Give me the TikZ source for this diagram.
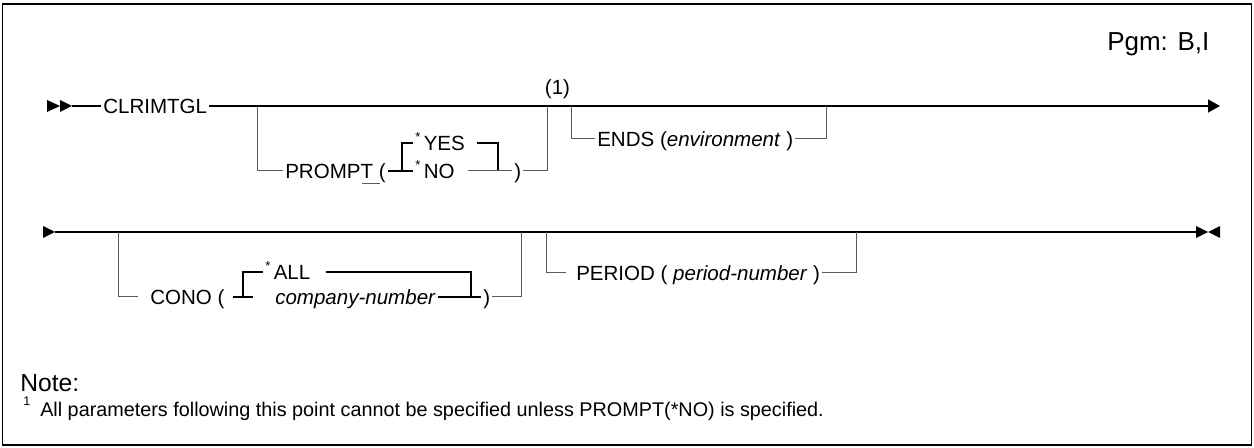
\documentclass[tikz,border=0pt]{standalone}
\usepackage{fontspec}
\setmainfont{Liberation Sans}
\usepackage{tikz}
\usetikzlibrary{arrows.meta}

\newcommand{\synfont}{\fontsize{15.4pt}{18pt}\selectfont}
\newcommand{\dflt}{\raisebox{6.5pt}{\fontsize{9.8pt}{10pt}\selectfont *}\,}

\begin{document}
\begin{tikzpicture}[x=0.75pt,y=0.75pt,yscale=-1,xscale=1,
  mainln/.style={line width=1.1pt,draw=black},
  branch/.style={line width=0.75pt,draw=black!65},
  kw/.style={anchor=west,inner xsep=1.5pt,inner ysep=0pt,text height=11pt,text depth=0pt,font=\synfont}]
\useasboundingbox (0,0) rectangle (1254,448);
%Shape: Rectangle
\draw [line width=0.9pt] (2.5,4) rectangle (1251.5,445);
% Text Node
\node [anchor=base west,inner sep=0pt,font=\fontsize{19.5pt}{22pt}\selectfont] (pgm) at (1107,51) {Pgm: B,I};

%% first line
\fill (47,100) -- (60,106) -- (47,112) -- cycle ;
\fill (60,100) -- (72,106) -- (60,112) -- cycle ;
\coordinate (s1) at (72,106);
\coordinate (e1) at (1220,106);
\node [kw] (clr) at (101,106) {CLRIMTGL};
%Straight Lines
\draw [mainln] (s1) -- (clr.west) ;
\draw [mainln,-{Triangle[length=9pt,width=9.75pt]}] (clr.east) -- (e1) ;
% PROMPT branch
\coordinate (pa) at (257,106);
\coordinate (pb) at (402,171);
\coordinate (pc) at (498,171);
\coordinate (pd) at (547,106);
\node [kw] (prompt) at (283,171) {PROMPT (};
\node [kw] (yes) at (413,143) {\dflt YES};
\node [kw] (no) at (413,171) {\dflt NO};
\node [kw] (cp1) at (512,171) {)};
\draw [branch] (pa) |- (prompt.west) ;
\draw [branch,line width=0.6pt] (362,183) -- (380,183) ;
\draw [mainln,line width=0.8pt] (prompt.east) -- (no.west) ;
\draw [mainln,line width=0.8pt] (pb) |- (yes.west) ;
\draw [mainln,line width=0.8pt] ([xshift=7.5pt]yes.east) -| (pc) ;
\draw [branch] ([xshift=8pt]no.east) -- (cp1.west) ;
\draw [branch] (cp1.east) -| (pd) ;
% Text Node
\node [kw,anchor=center] (fn1) at (557.5,87) {(1)};
% ENDS branch
\coordinate (ea) at (571,106);
\coordinate (eb) at (826,106);
\node [kw] (ends) at (595,139) {ENDS (\textit{environment} )};
\draw [branch] (ea) |- (ends.west) ;
\draw [branch] (ends.east) -| (eb) ;

%% second line
\fill (43,226) -- (55,232) -- (43,238) -- cycle ;
\fill (1196,226) -- (1208,232) -- (1196,238) -- cycle ;
\fill (1220,226) -- (1208,232) -- (1220,238) -- cycle ;
\coordinate (s2) at (55,232);
\coordinate (e2) at (1196,232);
\draw [mainln] (s2) -- (e2) ;
% CONO branch
\coordinate (ca) at (118,232);
\coordinate (cb) at (243,297);
\coordinate (cc) at (471,297);
\coordinate (cd) at (521,232);
\node [kw] (cono) at (148,297) {CONO (};
\node [kw] (all) at (263,272) {\dflt ALL};
\node [kw] (cnum) at (273,297) {\textit{company-number}};
\node [kw] (cp2) at (481,297) {)};
\draw [branch] (ca) |- ([xshift=-7.5pt]cono.west) ;
\draw [mainln,line width=0.8pt] ([xshift=4.5pt]cono.east) -- ([xshift=-15pt]cnum.west) ;
\draw [mainln,line width=0.8pt] (cb) |- (all.west) ;
\draw [mainln] ([xshift=9.75pt]all.east) -| (cc) ;
\draw [mainln,line width=0.8pt] (cnum.east) -- (cp2.west) ;
\draw [branch] (cp2.east) -| (cd) ;
% PERIOD branch
\coordinate (qa) at (546,232);
\coordinate (qb) at (856,232);
\node [kw] (period) at (574,273) {PERIOD ( \textit{period-number} )};
\draw [branch] (qa) |- ([xshift=-6pt]period.west) ;
\draw [branch] (period.east) -| (qb) ;

%% note
% Text Node
\node [anchor=base west,inner sep=0pt,font=\fontsize{18.5pt}{20pt}\selectfont] (note) at (20,392) {Note:};
% Text Node
\node [anchor=base west,inner sep=0pt,font=\fontsize{9.4pt}{10pt}\selectfont] (fnum) at (23,406) {1};
% Text Node
\node [anchor=base west,inner sep=0pt,font=\fontsize{14.85pt}{18pt}\selectfont] (fntext) at (40,417) {All parameters following this point cannot be specified unless PROMPT(*NO) is specified.};
\end{tikzpicture}
\end{document}
